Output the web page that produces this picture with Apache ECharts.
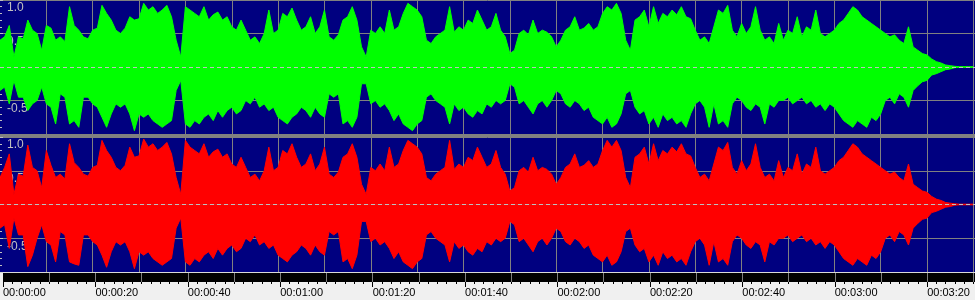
<!DOCTYPE html>
<html>
<head>
<meta charset="utf-8">
<script src="https://cdn.jsdelivr.net/npm/echarts@6/dist/echarts.min.js"></script>
<style>
html, body { margin: 0; padding: 0; background: #f0f0f0; }
#wave { width: 975px; height: 300px; }
</style>
</head>
<body>
<div id="wave"></div>
<script>
// peak level per second (index = seconds)
var greenTop = [
  0.40,0.45,0.62,0.15,0.45,0.42,0.70,0.55,0.50,0.25,
  0.62,0.58,0.40,0.45,0.38,0.90,0.62,0.55,0.45,0.42,
  0.55,0.58,0.92,0.80,0.70,0.55,0.50,0.58,0.75,0.70,
  0.72,0.95,0.85,0.90,0.80,0.85,0.92,0.75,0.40,0.15,
  0.90,0.85,0.80,0.75,0.90,0.70,0.78,0.82,0.70,0.75,
  0.60,0.55,0.70,0.55,0.40,0.45,0.35,0.50,0.85,0.50,
  0.55,0.80,0.75,0.88,0.70,0.55,0.60,0.75,0.50,0.60,
  0.85,0.45,0.40,0.48,0.70,0.75,0.90,0.70,0.30,0.15,
  0.55,0.50,0.60,0.50,0.85,0.55,0.60,0.80,0.95,0.90,
  0.85,0.75,0.40,0.35,0.45,0.50,0.55,0.90,0.52,0.60,
  0.55,0.70,0.65,0.85,0.70,0.55,0.60,0.80,0.55,0.45,
  0.20,0.25,0.50,0.55,0.48,0.70,0.50,0.55,0.52,0.45,
  0.30,0.40,0.55,0.60,0.75,0.55,0.58,0.65,0.55,0.60,
  0.80,0.90,0.85,0.95,0.80,0.40,0.25,0.70,0.75,0.85,
  0.60,0.90,0.65,0.80,0.75,0.85,0.78,0.90,0.75,0.72,
  0.55,0.40,0.45,0.35,0.60,0.85,0.80,0.92,0.55,0.45,
  0.65,0.50,0.60,0.90,0.55,0.40,0.45,0.35,0.65,0.40,
  0.55,0.50,0.75,0.45,0.60,0.55,0.85,0.50,0.45,0.50,
  0.55,0.65,0.70,0.80,0.90,0.85,0.75,0.70,0.65,0.60,
  0.55,0.50,0.45,0.48,0.40,0.35,0.60,0.30,0.25,0.20,
  0.18,0.12,0.08,0.06,0.03,0.02,0.01,0.005,0.005,0.005,0.005
];
var greenBottom = [
  0.35,0.30,0.55,0.20,0.45,0.45,0.65,0.55,0.50,0.30,
  0.55,0.60,0.85,0.40,0.45,0.85,0.80,0.90,0.45,0.45,
  0.55,0.60,0.75,0.90,0.70,0.55,0.60,0.55,0.70,0.95,
  0.70,0.75,0.70,0.80,0.85,0.90,0.85,0.80,0.35,0.20,
  0.85,0.90,0.80,0.85,0.75,0.70,0.80,0.65,0.75,0.65,
  0.60,0.70,0.65,0.50,0.55,0.45,0.60,0.55,0.65,0.60,
  0.75,0.80,0.85,0.75,0.70,0.60,0.65,0.75,0.60,0.70,
  0.75,0.40,0.45,0.40,0.85,0.80,0.90,0.75,0.25,0.25,
  0.55,0.50,0.60,0.55,0.65,0.80,0.70,0.85,0.90,0.95,
  0.85,0.80,0.45,0.40,0.50,0.55,0.60,0.85,0.55,0.65,
  0.60,0.70,0.75,0.65,0.70,0.55,0.60,0.50,0.55,0.50,
  0.25,0.30,0.55,0.50,0.60,0.70,0.55,0.50,0.60,0.50,
  0.35,0.40,0.55,0.60,0.50,0.55,0.65,0.60,0.75,0.80,
  0.85,0.75,0.90,0.85,0.70,0.40,0.35,0.60,0.70,0.65,
  0.85,0.75,0.90,0.70,0.80,0.75,0.85,0.80,0.90,0.70,
  0.55,0.50,0.60,0.90,0.55,0.85,0.80,0.90,0.55,0.45,
  0.50,0.60,0.65,0.55,0.60,0.85,0.55,0.60,0.50,0.50,
  0.45,0.55,0.50,0.45,0.55,0.50,0.60,0.55,0.65,0.55,
  0.60,0.70,0.80,0.85,0.90,0.80,0.85,0.90,0.75,0.80,
  0.70,0.50,0.45,0.55,0.40,0.45,0.60,0.35,0.28,0.22,
  0.20,0.12,0.10,0.07,0.04,0.03,0.01,0.005,0.005,0.005,0.005
];
var redTop = [
  0.40,0.55,0.75,0.15,0.45,0.42,0.88,0.55,0.50,0.25,
  0.80,0.58,0.40,0.45,0.38,0.90,0.62,0.55,0.45,0.42,
  0.55,0.58,0.95,0.80,0.70,0.55,0.50,0.58,0.85,0.70,
  0.72,0.97,0.85,0.90,0.80,0.85,0.92,0.75,0.40,0.15,
  0.95,0.85,0.80,0.75,0.90,0.70,0.78,0.82,0.70,0.75,
  0.60,0.55,0.70,0.55,0.40,0.45,0.35,0.50,0.85,0.50,
  0.55,0.80,0.75,0.90,0.70,0.55,0.60,0.75,0.50,0.60,
  0.85,0.45,0.40,0.48,0.70,0.75,0.90,0.70,0.30,0.15,
  0.55,0.50,0.60,0.50,0.85,0.55,0.60,0.80,0.95,0.90,
  0.85,0.75,0.40,0.35,0.45,0.50,0.55,0.95,0.52,0.60,
  0.55,0.70,0.65,0.85,0.70,0.55,0.60,0.80,0.55,0.45,
  0.20,0.25,0.50,0.55,0.48,0.70,0.50,0.55,0.52,0.45,
  0.30,0.40,0.55,0.60,0.75,0.55,0.58,0.65,0.55,0.60,
  0.80,0.95,0.85,0.95,0.80,0.40,0.25,0.70,0.75,0.85,
  0.60,0.90,0.65,0.80,0.75,0.85,0.78,0.90,0.75,0.72,
  0.55,0.40,0.45,0.35,0.60,0.85,0.80,0.92,0.55,0.45,
  0.65,0.50,0.60,0.90,0.55,0.40,0.45,0.35,0.65,0.40,
  0.55,0.50,0.75,0.45,0.60,0.55,0.85,0.50,0.45,0.50,
  0.55,0.65,0.70,0.80,0.90,0.85,0.75,0.70,0.65,0.60,
  0.55,0.50,0.45,0.48,0.40,0.35,0.60,0.30,0.25,0.20,
  0.18,0.12,0.08,0.06,0.03,0.02,0.01,0.005,0.005,0.005,0.005
];
var redBottom = [
  0.35,0.30,0.65,0.20,0.45,0.45,0.92,0.75,0.50,0.30,
  0.55,0.60,0.85,0.40,0.45,0.85,0.88,0.90,0.45,0.45,
  0.55,0.60,0.75,0.93,0.70,0.55,0.60,0.55,0.70,0.95,
  0.70,0.75,0.70,0.80,0.85,0.90,0.85,0.80,0.35,0.20,
  0.85,0.90,0.80,0.85,0.75,0.70,0.80,0.65,0.75,0.65,
  0.60,0.70,0.65,0.50,0.55,0.45,0.60,0.55,0.65,0.60,
  0.75,0.80,0.85,0.75,0.70,0.60,0.65,0.75,0.60,0.70,
  0.75,0.40,0.45,0.40,0.85,0.80,0.95,0.75,0.25,0.25,
  0.55,0.50,0.60,0.55,0.65,0.80,0.70,0.85,0.90,0.95,
  0.85,0.80,0.45,0.40,0.50,0.55,0.60,0.85,0.55,0.65,
  0.60,0.70,0.75,0.65,0.70,0.55,0.60,0.50,0.55,0.50,
  0.25,0.30,0.55,0.50,0.60,0.70,0.55,0.50,0.60,0.50,
  0.35,0.40,0.55,0.60,0.50,0.55,0.65,0.60,0.75,0.80,
  0.85,0.75,0.90,0.85,0.70,0.40,0.35,0.60,0.70,0.65,
  0.85,0.75,0.90,0.70,0.80,0.75,0.85,0.80,0.90,0.70,
  0.55,0.50,0.60,0.90,0.55,0.85,0.80,0.90,0.55,0.45,
  0.50,0.60,0.65,0.55,0.60,0.85,0.55,0.60,0.50,0.50,
  0.45,0.55,0.50,0.45,0.55,0.50,0.60,0.55,0.65,0.55,
  0.60,0.70,0.80,0.85,0.90,0.80,0.85,0.90,0.75,0.80,
  0.70,0.50,0.45,0.55,0.40,0.45,0.60,0.35,0.28,0.22,
  0.20,0.12,0.10,0.07,0.04,0.03,0.01,0.005,0.005,0.005,0.005
];
var ampMin = -1, ampMax = 1, ampStep = 0.5;
var timeEnd = 210.35;   // seconds across the full width
var gridStep = 10, labelStep = 20;

var navy = '#000080', grey = '#808080', light = '#c0c0c0';

function pts(arr, sign) {
  return arr.map(function (v, i) { return [i, sign * v]; });
}
function hms(v) {
  var s = Math.round(v);
  var p = function (n) { return (n < 10 ? '0' : '') + n; };
  return p(Math.floor(s / 3600)) + ':' + p(Math.floor(s / 60) % 60) + ':' + p(s % 60);
}

function timeAxis(idx) {
  return {
    type: 'value', gridIndex: idx, min: 0, max: timeEnd, interval: gridStep,
    axisLine: { show: false }, axisTick: { show: false }, axisLabel: { show: false },
    splitLine: { show: true, showMinLine: false, showMaxLine: false, lineStyle: { color: grey, width: 1 } }
  };
}
function ampAxis(idx) {
  return {
    type: 'value', gridIndex: idx, min: ampMin, max: ampMax, interval: ampStep,
    axisLine: { show: false },
    axisTick: { show: true, inside: true, length: 3, lineStyle: { color: light } },
    minorTick: { show: true, splitNumber: 5, length: 2, lineStyle: { color: light } },
    splitLine: { show: true, lineStyle: { color: grey, width: 1 } },
    axisLabel: {
      inside: true, margin: 7, color: light, fontFamily: 'Liberation Sans', fontSize: 12,
      verticalAlign: 'top', padding: [2, 0, 0, 0], showMinLabel: false,
      formatter: function (v) { return v.toFixed(1); }
    }
  };
}
function wave(idx, arr, sign, color, zero) {
  var s = {
    type: 'line', xAxisIndex: idx, yAxisIndex: idx, data: pts(arr, sign),
    showSymbol: false, symbol: 'none', silent: true,
    lineStyle: { color: color, width: 1 },
    areaStyle: { color: color, opacity: 1 }
  };
  if (zero) {
    s.markLine = {
      silent: true, symbol: 'none', label: { show: false }, animation: false,
      lineStyle: { color: light, type: [4, 3], width: 1 },
      data: [{ yAxis: 0 }]
    };
  }
  return s;
}

var chart = echarts.init(document.getElementById('wave'));
var option = {
  animation: false,
  backgroundColor: '#f0f0f0',
  grid: [
    { left: 0, width: 975, top: 0, height: 134, show: true, backgroundColor: navy, borderWidth: 0 },
    { left: 0, width: 975, top: 137, height: 135, show: true, backgroundColor: navy, borderWidth: 0 },
    { left: 0, width: 975, top: 273, height: 9, show: true, backgroundColor: '#000', borderWidth: 0 }
  ],
  xAxis: [
    timeAxis(0),
    timeAxis(1),
    timeAxis(2),
    {
      type: 'value', gridIndex: 2, position: 'bottom', min: 0, max: timeEnd, interval: labelStep,
      axisLine: { show: false },
      axisTick: { show: true, length: 5, lineStyle: { color: '#000' } },
      minorTick: { show: true, splitNumber: 10, length: 2, lineStyle: { color: '#000' } },
      splitLine: { show: false },
      axisLabel: {
        align: 'left', margin: 5, color: '#000', fontFamily: 'Liberation Sans', fontSize: 11,
        showMaxLabel: false, formatter: hms
      }
    }
  ],
  yAxis: [
    ampAxis(0),
    ampAxis(1),
    { type: 'value', gridIndex: 2, min: 0, max: 1, show: false },
    { type: 'value', gridIndex: 2, min: 0, max: 1, show: false }
  ],
  graphic: [
    { type: 'rect', z: 100, shape: { x: 0, y: 134, width: 975, height: 3 }, style: { fill: grey } },
    { type: 'rect', z: 100, shape: { x: 0, y: 272, width: 975, height: 1 }, style: { fill: '#d8d8d8' } }
  ],
  series: [
    wave(0, greenTop, 1, '#00ff00', false),
    wave(0, greenBottom, -1, '#00ff00', true),
    wave(1, redTop, 1, '#ff0000', false),
    wave(1, redBottom, -1, '#ff0000', true)
  ]
};
chart.setOption(option);
</script>
</body>
</html>
